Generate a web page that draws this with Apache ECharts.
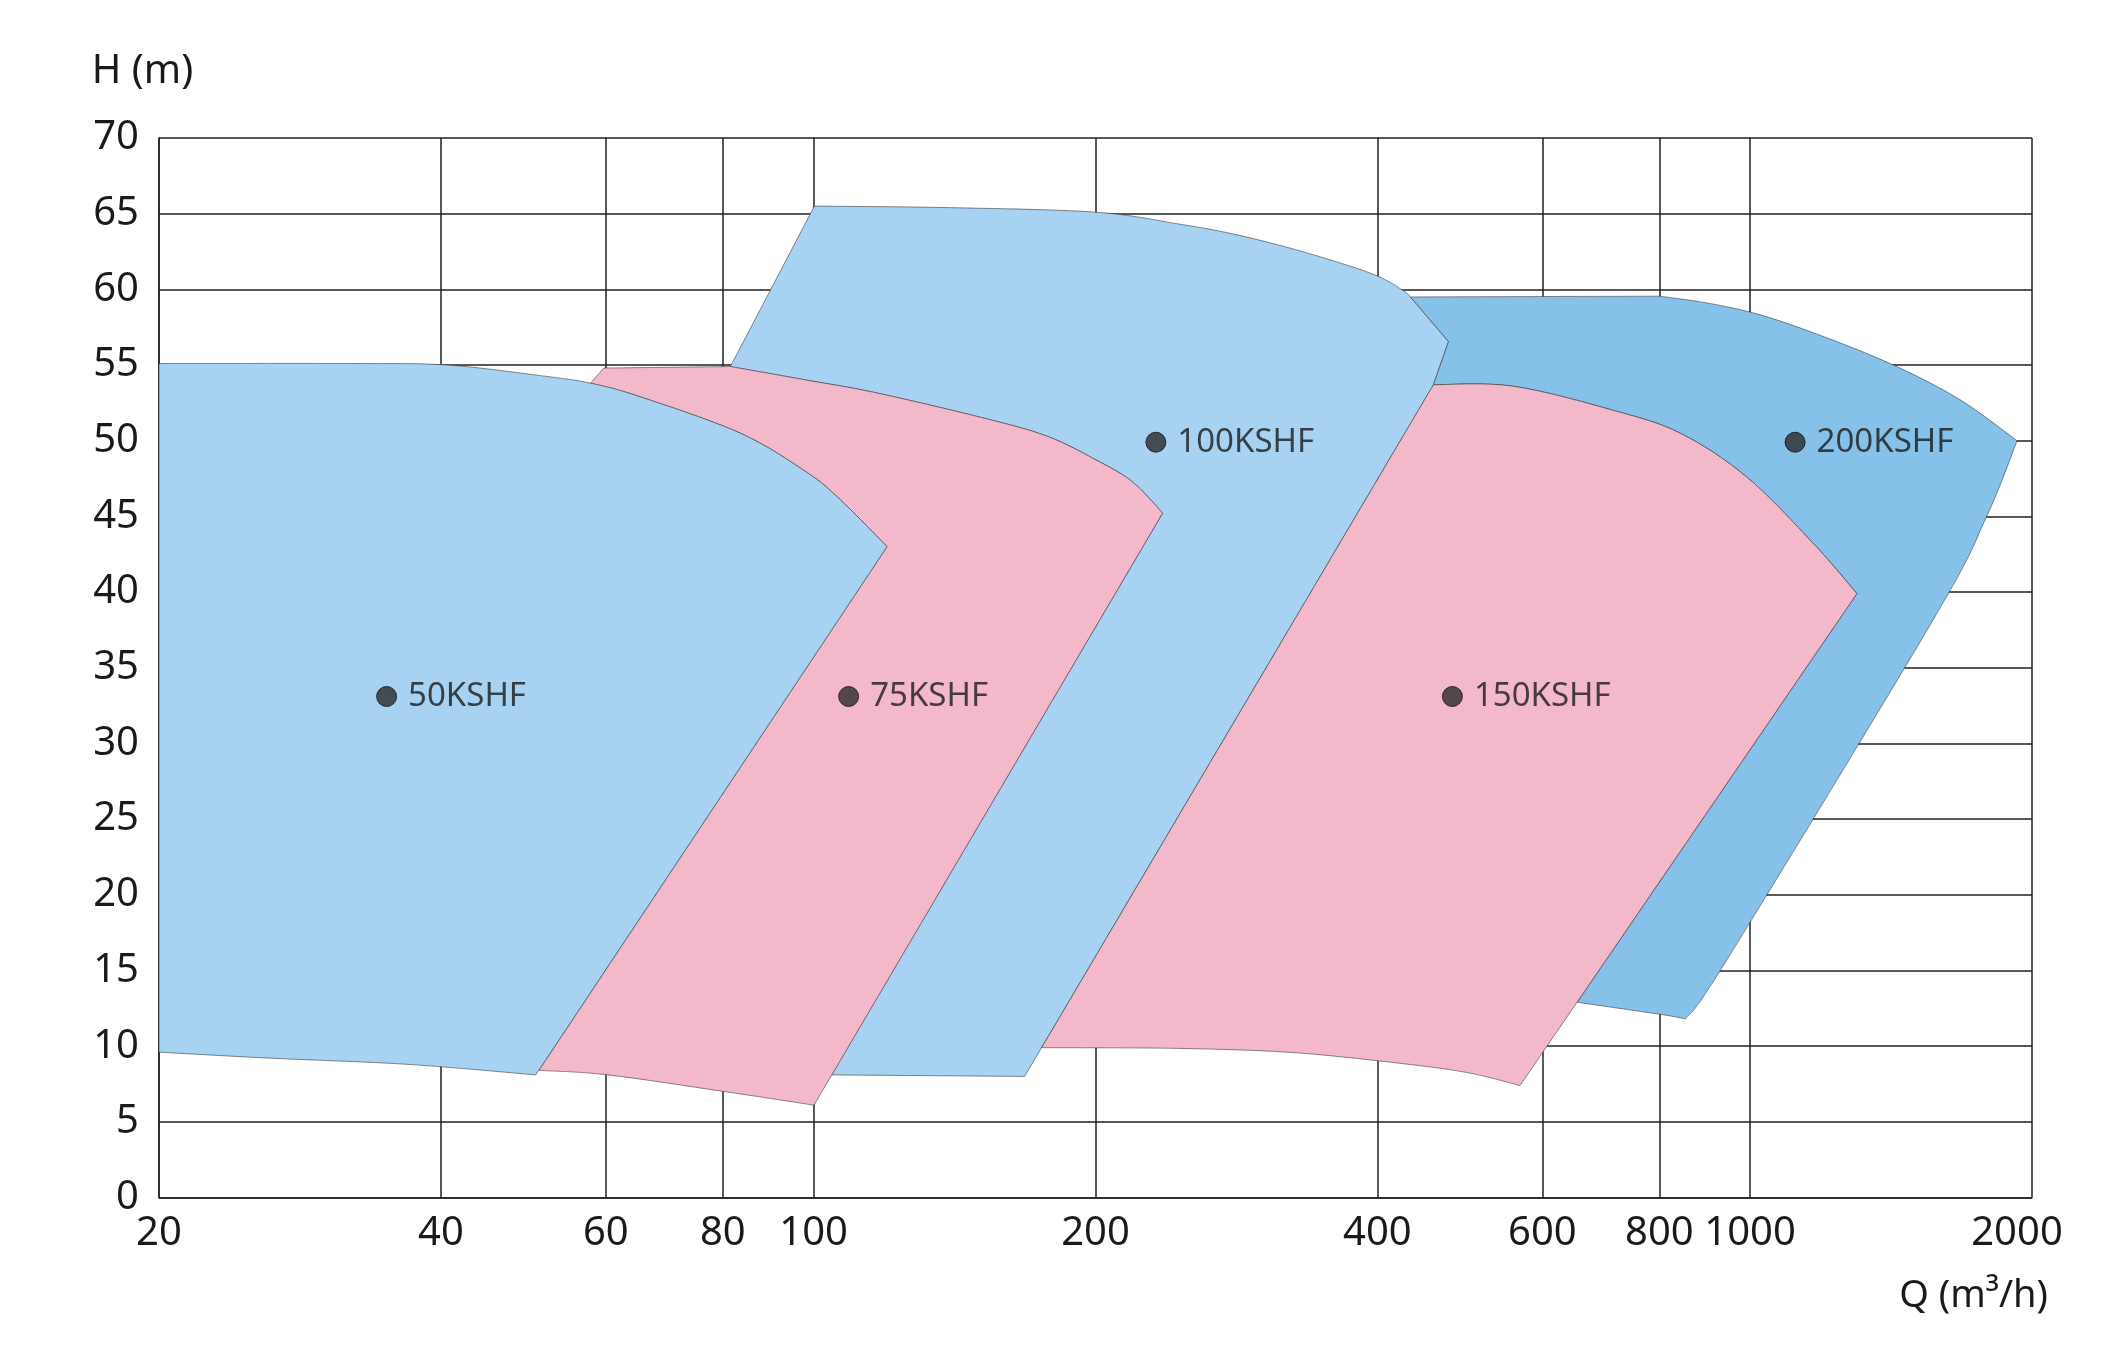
<!DOCTYPE html>
<html>
<head>
<meta charset="utf-8">
<script src="https://cdn.jsdelivr.net/npm/echarts@6/dist/echarts.min.js"></script>
<style>
  html, body { margin: 0; padding: 0; background: #ffffff; }
  #chart { width: 2124px; height: 1356px; }
</style>
</head>
<body>
<div id="chart"></div>
<script>
// ---------- data ----------
const xTickValues = [20, 40, 60, 80, 100, 200, 400, 600, 800, 1000, 2000];
const yMin = 0, yMax = 70, yStep = 5;

// Boundary edges of the operating ranges, points [Q (m3/h), H (m)].
// An edge with 2 points is straight; an edge with more points is a smooth curve.
const e50Top = [[20, 55.1], [32.2, 55.1], [40.6, 55.0], [51.1, 54.3], [57.8, 53.8], [65.3, 52.9],
                [83.5, 50.5], [98.4, 47.9], [106.8, 46.1], [119.8, 43.0]];
const e50TopRight = [[57.8, 53.8], [65.3, 52.9], [83.5, 50.5], [98.4, 47.9], [106.8, 46.1], [119.8, 43.0]];
const e50Right = [[119.8, 43.0], [50.5, 8.1]];
const e50Bottom = [[50.5, 8.1], [36.8, 8.8], [26.4, 9.2], [20, 9.6]];
const e50Left = [[20, 9.6], [20, 55.1]];

const e75Corner = [[57.8, 53.8], [59.7, 54.8]];
const e75TopFlat = [[59.7, 54.8], [81.5, 54.9]];
const e75Top = [[81.5, 54.9], [98.4, 54.0], [115.9, 53.2], [150.7, 51.55], [177.5, 50.3],
                [200.7, 48.7], [217.8, 47.4], [230.6, 45.9], [235.8, 45.2]];
const e75Right = [[235.8, 45.2], [100.1, 6.1]];
const e75Bottom = [[100.1, 6.1], [80.3, 7.0], [60.3, 8.1], [50.9, 8.4]];
const e75Left = [[50.9, 8.4], [119.8, 43.0]];

const e100Left = [[81.5, 54.9], [100.2, 65.5]];
const e100Top = [[100.2, 65.5], [139.3, 65.4], [200, 65.1], [246.4, 64.3], [278.6, 63.7], [315, 62.9],
                 [356.2, 61.95], [399.6, 60.9], [426.6, 59.9], [433.8, 59.5]];
const e100Shoulder = [[433.8, 59.5], [476.4, 56.55]];
const e100Notch = [[476.4, 56.55], [459.1, 53.7]];
const e100Right = [[459.1, 53.7], [168, 8.0]];
const e100Bottom = [[168, 8.0], [104.5, 8.1]];
const e100LowerLeft = [[104.5, 8.1], [235.8, 45.2]];

const e150Top = [[459.1, 53.7], [558.6, 53.6], [714.9, 52.0], [842, 50.5], [991.8, 47.6],
                 [1168.6, 43.2], [1300.4, 39.9]];
const e150Right = [[1300.4, 39.9], [568, 7.4]];
const e150Bottom = [[568, 7.4], [494, 8.3], [404.6, 9.0], [320.4, 9.6], [245.5, 9.85], [175.2, 9.9]];
const e150Left = [[175.2, 9.9], [459.1, 53.7]];

const e200TopFlat = [[433.8, 59.5], [800.6, 59.55]];
const e200Top = [[800.6, 59.55], [899.7, 59.1], [1027.6, 58.3], [1213.8, 56.75], [1434, 54.9],
                 [1676.8, 52.7], [1928, 50.0]];
const e200Right = [[1928, 50.0], [1789, 45.0], [1569.6, 38.2], [944.6, 15.7], [852.9, 11.8]];
const e200Bottom = [[852.9, 11.8], [801.8, 12.1], [653.6, 12.9]];
const e200LowerLeft = [[653.6, 12.9], [1300.4, 39.9]];

function rev(a) { return a.slice().reverse(); }

const poly50 = [e50Top, e50Right, e50Bottom, e50Left];
const poly75 = [e75Corner, e75TopFlat, e75Top, e75Right, e75Bottom, e75Left, rev(e50TopRight)];
const poly100 = [e100Left, e100Top, e100Shoulder, e100Notch, e100Right, e100Bottom, e100LowerLeft, rev(e75Top)];
const poly150 = [e150Top, e150Right, e150Bottom, e150Left];
const poly200 = [e200TopFlat, e200Top, e200Right, e200Bottom, e200LowerLeft, rev(e150Top),
                 rev(e100Notch), rev(e100Shoulder)];

const modelNames = ['50KSHF', '75KSHF', '100KSHF', '150KSHF', '200KSHF'];
const markerQ = [35, 109, 232, 481, 1117];
const markerH = [33.1, 33.1, 49.9, 33.1, 49.9];

// ---------- styles ----------
const FONT = 'Noto Sans';
const LIGHT_BLUE = '#A8D2F2';
const PINK = '#F3B9CA';
const DARK_BLUE = '#86C1EA';
const LINE = '#222222';
const TEXT = '#1a1a1a';

function fmt(n) { return n.toFixed(2); }

function buildPath(edges, api) {
  let d = '';
  edges.forEach(function (edge, ei) {
    const p = edge.map(function (v) { return api.coord(v); });
    if (ei === 0) d += 'M' + fmt(p[0][0]) + ' ' + fmt(p[0][1]);
    if (p.length === 2) {
      d += 'L' + fmt(p[1][0]) + ' ' + fmt(p[1][1]);
      return;
    }
    const n = p.length;
    for (let i = 0; i < n - 1; i++) {
      const p0 = p[i > 0 ? i - 1 : i];
      const p1 = p[i];
      const p2 = p[i + 1];
      const p3 = p[i + 2 < n ? i + 2 : i + 1];
      const c1x = p1[0] + (p2[0] - p0[0]) / 6, c1y = p1[1] + (p2[1] - p0[1]) / 6;
      const c2x = p2[0] - (p3[0] - p1[0]) / 6, c2y = p2[1] - (p3[1] - p1[1]) / 6;
      d += 'C' + fmt(c1x) + ' ' + fmt(c1y) + ' ' + fmt(c2x) + ' ' + fmt(c2y) + ' ' + fmt(p2[0]) + ' ' + fmt(p2[1]);
    }
  });
  return d + 'Z';
}

function polygonSeries(name, edges, color, z) {
  const pts = [];
  edges.forEach(function (e) { e.forEach(function (v) { pts.push(v); }); });
  return {
    name: name,
    type: 'custom',
    coordinateSystem: 'cartesian2d',
    data: pts,
    encode: { x: 0, y: 1 },
    silent: true,
    z: z,
    renderItem: function (params, api) {
      if (params.dataIndex !== 0) return;
      return {
        type: 'path',
        shape: { pathData: buildPath(edges, api) },
        style: { fill: color, stroke: 'rgba(50,50,50,0.55)', lineWidth: 1 }
      };
    }
  };
}

const chart = echarts.init(document.getElementById('chart'), null, { renderer: 'canvas' });

const option = {
  backgroundColor: '#ffffff',
  animation: false,
  grid: { left: 159, right: 92, top: 138, bottom: 158.5, containLabel: false },
  xAxis: {
    type: 'log',
    logBase: 10,
    min: 20,
    max: 2000,
    name: 'Q (m³/h)',
    nameLocation: 'end',
    nameGap: 16,
    nameTextStyle: {
      fontFamily: FONT, fontSize: 38, color: TEXT,
      align: 'right', verticalAlign: 'top', padding: [80, 0, 0, 0]
    },
    axisLine: { show: true, lineStyle: { color: LINE, width: 1.5 } },
    axisTick: { show: false, customValues: xTickValues },
    axisLabel: {
      customValues: xTickValues,
      fontFamily: FONT, fontSize: 40, color: TEXT, margin: 16,
      formatter: function (v) {
        const s = String(Math.round(v));
        return s === '2000' ? '{last|' + s + '}' : s;
      },
      rich: {
        last: { fontFamily: FONT, fontSize: 40, color: TEXT, padding: [0, 30, 0, 0] }
      }
    },
    splitLine: { show: true, lineStyle: { color: LINE, width: 1.5 } }
  },
  yAxis: {
    type: 'value',
    min: yMin,
    max: yMax,
    interval: yStep,
    name: 'H (m)',
    nameLocation: 'end',
    nameGap: 46,
    nameTextStyle: {
      fontFamily: FONT, fontSize: 40, color: TEXT,
      align: 'center', verticalAlign: 'bottom', padding: [0, 33, 0, 0]
    },
    axisLine: { show: true, lineStyle: { color: LINE, width: 1.5 } },
    axisTick: { show: false },
    axisLabel: { fontFamily: FONT, fontSize: 40, color: TEXT, margin: 20 },
    splitLine: { show: true, lineStyle: { color: LINE, width: 1.5 } }
  },
  series: [
    polygonSeries('100KSHF', poly100, LIGHT_BLUE, 2),
    polygonSeries('200KSHF', poly200, DARK_BLUE, 2),
    polygonSeries('150KSHF', poly150, PINK, 3),
    polygonSeries('75KSHF', poly75, PINK, 3),
    polygonSeries('50KSHF', poly50, LIGHT_BLUE, 4),
    {
      type: 'scatter',
      z: 6,
      symbol: 'circle',
      symbolSize: 20,
      itemStyle: { color: '#2a2a2a', borderColor: '#111', borderWidth: 1 },
      label: {
        show: true,
        position: 'right',
        distance: 11,
        fontFamily: FONT,
        fontSize: 33,
        color: TEXT,
        formatter: function (p) { return p.name; }
      },
      data: modelNames.map(function (n, i) {
        return { name: n, value: [markerQ[i], markerH[i]] };
      })
    }
  ]
};

chart.setOption(option);
</script>
</body>
</html>
